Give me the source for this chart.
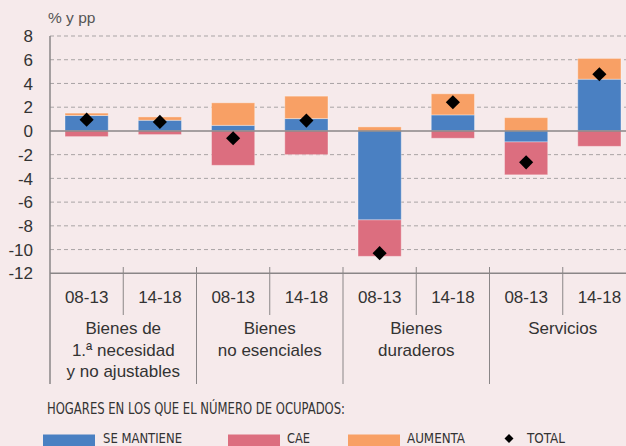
<!DOCTYPE html>
<html>
<head>
<meta charset="utf-8">
<script src="https://cdn.jsdelivr.net/npm/d3@7"></script>
<style>
  body { margin: 0; background: #f6eaeb; }
  svg { display: block; font-family: "Liberation Sans", Arial, sans-serif; }
</style>
</head>
<body>
<div id="wrapper"></div>
<script>
// data
const periods = ["08-13", "14-18", "08-13", "14-18", "08-13", "14-18", "08-13", "14-18"];
const groups = [
  ["Bienes de", "1.ª necesidad", "y no ajustables"],
  ["Bienes", "no esenciales"],
  ["Bienes", "duraderos"],
  ["Servicios"],
];
const seMantiene = [1.3, 0.9, 0.47, 1.04, -7.5, 1.35, -0.93, 4.36];
const cae = [-0.48, -0.31, -2.9, -2.0, -3.07, -0.62, -2.77, -1.3];
const aumenta = [0.2, 0.28, 1.9, 1.89, 0.34, 1.78, 1.12, 1.75];
const total = [0.95, 0.76, -0.62, 0.87, -10.3, 2.42, -2.65, 4.78];
const yTicks = [8, 6, 4, 2, 0, -2, -4, -6, -8, -10, -12];
const seriesKeys = ["SE MANTIENE", "CAE", "AUMENTA"];
const legendTitle = "HOGARES EN LOS QUE EL NÚMERO DE OCUPADOS:";

const colors = { "SE MANTIENE": "#4a80c2", CAE: "#dc6e7f", AUMENTA: "#f8a065" };

const width = 626;
const height = 446;
let dimensions = {
  left: 50,
  right: 636, // plot runs past the right edge in the original
  top: 36,
  bottom: 273.3,
};

const table = periods.map((p, i) => ({
  i: i,
  "SE MANTIENE": seMantiene[i],
  CAE: cae[i],
  AUMENTA: aumenta[i],
}));

const stack = d3.stack().keys(seriesKeys).offset(d3.stackOffsetDiverging);
const stacked = stack(table);

const xScale = d3
  .scaleBand()
  .domain(d3.range(periods.length))
  .range([dimensions.left, dimensions.right])
  .paddingInner(0.41)
  .paddingOuter(0.205);
const step = xScale.step();
const slotLeft = (i) => xScale(i) - (step * 0.41) / 2;

const yScale = d3
  .scaleLinear()
  .domain([-12, 8])
  .range([dimensions.bottom, dimensions.top]);

const svg = d3
  .select("#wrapper")
  .append("svg")
  .attr("width", width)
  .attr("height", height);

// unit label
svg
  .append("text")
  .attr("x", 48)
  .attr("y", 22.5)
  .attr("font-size", 15.5)
  .attr("fill", "#555")
  .text("% y pp");

// grid
svg
  .append("g")
  .selectAll("line")
  .data(yTicks.filter((d) => d !== 0 && d !== -12))
  .join("line")
  .attr("x1", dimensions.left)
  .attr("x2", width)
  .attr("y1", (d) => yScale(d))
  .attr("y2", (d) => yScale(d))
  .attr("stroke", "#a9a4a5")
  .attr("stroke-width", 1)
  .attr("stroke-dasharray", "4,3");

// y labels
svg
  .append("g")
  .selectAll("text")
  .data(yTicks)
  .join("text")
  .attr("x", 33)
  .attr("y", (d) => yScale(d))
  .attr("dy", "0.36em")
  .attr("text-anchor", "end")
  .attr("font-size", 17)
  .attr("fill", "#333")
  .text((d) => d);

// bars
svg
  .append("g")
  .selectAll("g")
  .data(stacked)
  .join("g")
  .attr("fill", (d) => colors[d.key])
  .selectAll("rect")
  .data((d) => d)
  .join("rect")
  .attr("x", (d) => xScale(d.data.i))
  .attr("width", xScale.bandwidth())
  .attr("y", (d) => yScale(Math.max(d[0], d[1])))
  .attr("height", (d) => Math.abs(yScale(d[0]) - yScale(d[1])))
  .attr("stroke", "rgba(255,255,255,0.35)")
  .attr("stroke-width", 1);

// zero line
svg
  .append("line")
  .attr("x1", dimensions.left)
  .attr("x2", width)
  .attr("y1", yScale(0))
  .attr("y2", yScale(0))
  .attr("stroke", "#8a8687")
  .attr("stroke-width", 1.5);

// totals
svg
  .append("g")
  .selectAll("path")
  .data(total)
  .join("path")
  .attr("d", d3.symbol(d3.symbolSquare, 100))
  .attr(
    "transform",
    (d, i) =>
      `translate(${xScale(i) + xScale.bandwidth() / 2},${yScale(d)}) rotate(45)`
  )
  .attr("fill", "#000");

// axes
const axisColor = "#8a8687";
svg
  .append("line")
  .attr("x1", dimensions.left)
  .attr("x2", dimensions.left)
  .attr("y1", dimensions.top)
  .attr("y2", 384)
  .attr("stroke", axisColor)
  .attr("stroke-width", 1.5);
svg
  .append("line")
  .attr("x1", dimensions.left)
  .attr("x2", width)
  .attr("y1", dimensions.bottom)
  .attr("y2", dimensions.bottom)
  .attr("stroke", axisColor)
  .attr("stroke-width", 1.5);

// separators: short within a group, long between groups
svg
  .append("g")
  .selectAll("line")
  .data(d3.range(1, periods.length))
  .join("line")
  .attr("x1", (i) => slotLeft(i))
  .attr("x2", (i) => slotLeft(i))
  .attr("y1", 267)
  .attr("y2", (i) => (i % 2 === 0 ? 384 : 315))
  .attr("stroke", axisColor)
  .attr("stroke-width", 1);

// period labels
svg
  .append("g")
  .selectAll("text")
  .data(periods)
  .join("text")
  .attr("x", (d, i) => xScale(i) + xScale.bandwidth() / 2)
  .attr("y", 297)
  .attr("dy", "0.36em")
  .attr("text-anchor", "middle")
  .attr("font-size", 17)
  .attr("fill", "#333")
  .text((d) => d);

// group labels
svg
  .append("g")
  .selectAll("text")
  .data(groups)
  .join("text")
  .attr("x", (d, i) => slotLeft(i * 2) + step)
  .attr("y", 328)
  .attr("text-anchor", "middle")
  .attr("font-size", 17)
  .attr("fill", "#333")
  .selectAll("tspan")
  .data((d) => d)
  .join("tspan")
  .attr("x", function () {
    return this.parentNode.getAttribute("x");
  })
  .attr("dy", (d, j) => (j === 0 ? "0.36em" : 21.5))
  .text((d) => d);

// legend
const legendFont = '"Liberation Sans Narrow", "DejaVu Sans Condensed", sans-serif';
svg
  .append("text")
  .attr("x", 47)
  .attr("y", 413.5)
  .attr("font-family", legendFont)
  .attr("font-size", 15)
  .attr("fill", "#333")
  .attr("textLength", 298)
  .attr("lengthAdjust", "spacingAndGlyphs")
  .text(legendTitle);

const legendItems = [
  { key: "SE MANTIENE", sx: 43, tx: 103, tl: 79 },
  { key: "CAE", sx: 228, tx: 287, tl: 23 },
  { key: "AUMENTA", sx: 348, tx: 407, tl: 58 },
];
const legend = svg.append("g");
legend
  .selectAll("rect")
  .data(legendItems)
  .join("rect")
  .attr("x", (d) => d.sx)
  .attr("y", 434.5)
  .attr("width", 52)
  .attr("height", 12)
  .attr("fill", (d) => colors[d.key]);
legend
  .selectAll("text")
  .data(legendItems)
  .join("text")
  .attr("x", (d) => d.tx)
  .attr("y", 442.5)
  .attr("font-family", legendFont)
  .attr("font-size", 14.5)
  .attr("fill", "#333")
  .attr("textLength", (d) => d.tl)
  .attr("lengthAdjust", "spacingAndGlyphs")
  .text((d) => d.key);
legend
  .append("path")
  .attr("d", d3.symbol(d3.symbolSquare, 40))
  .attr("transform", "translate(509,438.5) rotate(45)")
  .attr("fill", "#000");
legend
  .append("text")
  .attr("x", 527)
  .attr("y", 442.5)
  .attr("font-family", legendFont)
  .attr("font-size", 14.5)
  .attr("fill", "#333")
  .attr("textLength", 38)
  .attr("lengthAdjust", "spacingAndGlyphs")
  .text("TOTAL");
</script>
</body>
</html>
